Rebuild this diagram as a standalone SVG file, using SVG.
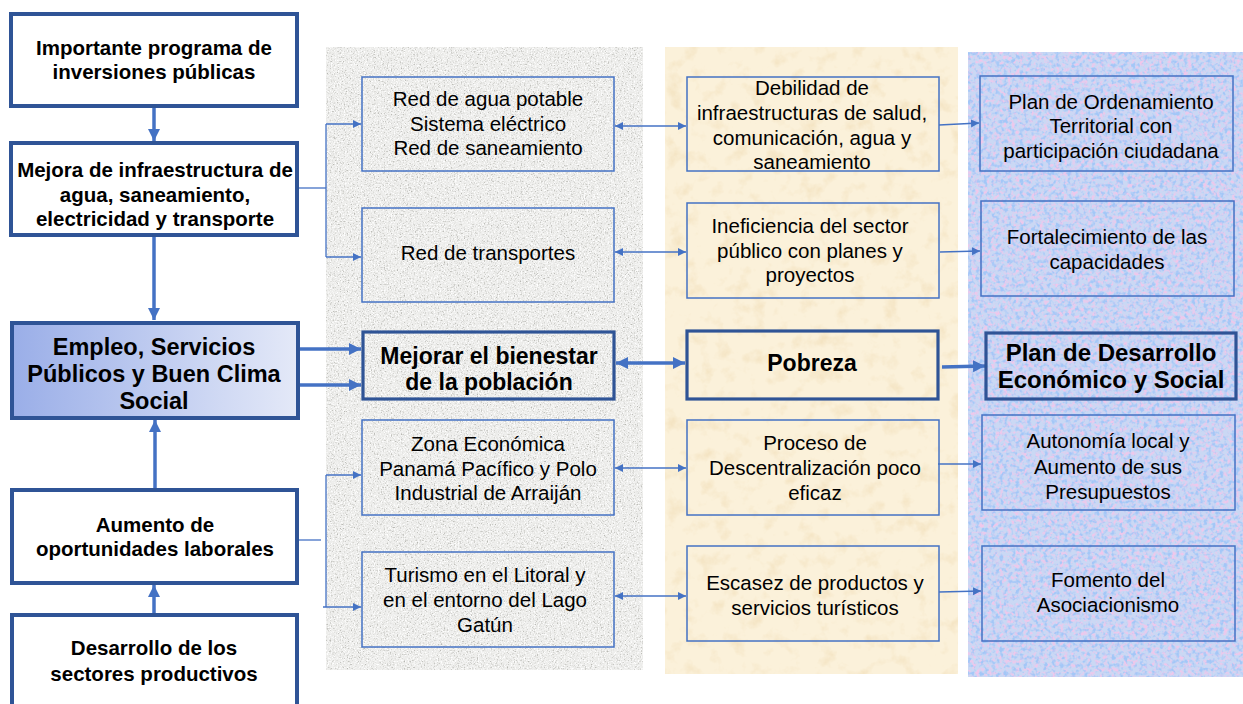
<svg xmlns="http://www.w3.org/2000/svg" width="1243" height="704" viewBox="0 0 1243 704">
<style>
.t{font-family:"Liberation Sans",Arial,sans-serif;text-anchor:middle;fill:#000}
.r{font-size:20.5px}
.b{font-size:20.5px;font-weight:bold}
.b23{font-size:23px;font-weight:bold}
.b24{font-size:24px;font-weight:bold}
.thickbox{fill:#fff;stroke:#2F5496;stroke-width:4}
.midbox{fill:none;stroke:#2F5496;stroke-width:3.2}
.thinbox{fill:none;stroke:#4472C4;stroke-width:1.5}
.thin{fill:none;stroke:#4472C4;stroke-width:1.3}
.thick{fill:none;stroke:#4472C4;stroke-width:3.5}
</style>
<defs>
<marker id="ah" markerUnits="userSpaceOnUse" markerWidth="9" markerHeight="9" refX="8" refY="4" orient="auto-start-reverse"><path d="M0,0 L8,4 L0,8 z" fill="#4472C4"/></marker>
<marker id="AH" markerUnits="userSpaceOnUse" markerWidth="14" markerHeight="14" refX="12" refY="6" orient="auto-start-reverse"><path d="M0,0 L12,6 L0,12 z" fill="#4472C4"/></marker>
<linearGradient id="gEmp" x1="0" y1="0" x2="1" y2="0"><stop offset="0" stop-color="#9AAEE8"/><stop offset="1" stop-color="#E4E9F8"/></linearGradient>
<filter id="dark" x="0" y="0" width="100%" height="100%" color-interpolation-filters="sRGB"><feTurbulence type="fractalNoise" baseFrequency="0.7" numOctaves="3" seed="4"/><feColorMatrix type="matrix" values="0 0 0 0 0.72  0 0 0 0 0.72  0 0 0 0 0.7  3.2 0 0 0 -1.7"/></filter>
<filter id="light" x="0" y="0" width="100%" height="100%" color-interpolation-filters="sRGB"><feTurbulence type="fractalNoise" baseFrequency="0.7" numOctaves="3" seed="9"/><feColorMatrix type="matrix" values="0 0 0 0 1  0 0 0 0 1  0 0 0 0 1  3.5 0 0 0 -1.7"/></filter>
<filter id="cream" x="0" y="0" width="100%" height="100%" color-interpolation-filters="sRGB"><feTurbulence type="fractalNoise" baseFrequency="0.06" numOctaves="4" seed="5"/><feColorMatrix type="matrix" values="0 0 0 0 0.95  0 0 0 0 0.88  0 0 0 0 0.74  2.2 0 0 0 -1.15"/></filter>
<filter id="pink" x="0" y="0" width="100%" height="100%" color-interpolation-filters="sRGB"><feTurbulence type="fractalNoise" baseFrequency="0.25" numOctaves="3" seed="7"/><feColorMatrix type="matrix" values="0 0 0 0 0.94  0 0 0 0 0.78  0 0 0 0 0.92  3.8 0 0 0 -1.8"/></filter>
<filter id="blue" x="0" y="0" width="100%" height="100%" color-interpolation-filters="sRGB"><feTurbulence type="fractalNoise" baseFrequency="0.25" numOctaves="3" seed="12"/><feColorMatrix type="matrix" values="0 0 0 0 0.64  0 0 0 0 0.78  0 0 0 0 0.97  3.8 0 0 0 -1.8"/></filter>
</defs>
<rect width="1243" height="704" fill="#fff"/>
<g id="panels">
<rect x="326" y="47" width="317" height="623" fill="#EDEDEB"/>
<rect x="326" y="47" width="317" height="623" fill="#000" filter="url(#dark)"/>
<rect x="326" y="47" width="317" height="623" fill="#000" filter="url(#light)"/>
<rect x="665" y="47" width="293" height="627" fill="#FBF1DA"/>
<rect x="665" y="47" width="293" height="627" fill="#000" filter="url(#cream)"/>
<rect x="968" y="52" width="275" height="625" fill="#CAD8F4"/>
<rect x="968" y="52" width="275" height="625" fill="#000" filter="url(#pink)"/>
<rect x="968" y="52" width="275" height="625" fill="#000" filter="url(#blue)"/>
</g>
<g id="connectors">
<path class="thick" d="M154,106 V141" marker-end="url(#AH)"/>
<path class="thick" d="M154,235 V320" marker-end="url(#AH)"/>
<path class="thick" d="M155,490 V420" marker-end="url(#AH)"/>
<path class="thick" d="M154,615 V585" marker-end="url(#AH)"/>
<path class="thick" d="M298,349 H361" marker-end="url(#AH)"/>
<path class="thick" d="M298,385 H361" marker-end="url(#AH)"/>
<path class="thick" d="M616,363 H685" marker-start="url(#AH)" marker-end="url(#AH)"/>
<path class="thick" d="M942,367 L985,366" marker-end="url(#AH)"/>
<path class="thin" d="M297,188 H326"/>
<path class="thin" d="M326,124 V257"/>
<path class="thin" d="M326,124 H361" marker-end="url(#ah)"/>
<path class="thin" d="M326,257 H361" marker-end="url(#ah)"/>
<path class="thin" d="M297,540 H321"/>
<path class="thin" d="M326,475 V607"/>
<path class="thin" d="M326,475 H361" marker-end="url(#ah)"/>
<path class="thin" d="M323,607 H361" marker-end="url(#ah)"/>
<path class="thin" d="M615,126 H686" marker-start="url(#ah)" marker-end="url(#ah)"/>
<path class="thin" d="M615,252 H686" marker-start="url(#ah)" marker-end="url(#ah)"/>
<path class="thin" d="M615,468 H686" marker-start="url(#ah)" marker-end="url(#ah)"/>
<path class="thin" d="M615,596 H686" marker-start="url(#ah)" marker-end="url(#ah)"/>
<path class="thin" d="M939,125 L979,123" marker-end="url(#ah)"/>
<path class="thin" d="M940,252 L980,251" marker-end="url(#ah)"/>
<path class="thin" d="M938,464 H981" marker-end="url(#ah)"/>
<path class="thin" d="M939,592 L981,591" marker-end="url(#ah)"/>
</g>
<g id="n-inversiones"><rect class="thickbox" x="11" y="14" width="286" height="92"/><text class="t b" x="154" y="55">Importante programa de</text><text class="t b" x="154" y="79">inversiones públicas</text></g>
<g id="n-mejora"><rect class="thickbox" x="11" y="143" width="286" height="92"/><text class="t b" x="155" y="177">Mejora de infraestructura de</text><text class="t b" x="155" y="202">agua, saneamiento,</text><text class="t b" x="155" y="226">electricidad y transporte</text></g>
<g id="n-empleo"><rect class="thickbox" x="12" y="323" width="286" height="95" style="fill:url(#gEmp)"/><text class="t" style="font-size:23.5px;font-weight:bold" x="154" y="355">Empleo, Servicios</text><text class="t" style="font-size:23.5px;font-weight:bold" x="154" y="382">Públicos y Buen Clima</text><text class="t" style="font-size:23.5px;font-weight:bold" x="154" y="409">Social</text></g>
<g id="n-aumento"><rect class="thickbox" x="12" y="490" width="285" height="93"/><text class="t b" x="155" y="532">Aumento de</text><text class="t b" x="155" y="556">oportunidades laborales</text></g>
<g id="n-desarrollo"><rect class="thickbox" x="12" y="615" width="285" height="110"/><text class="t b" x="154" y="655">Desarrollo de los</text><text class="t b" x="154" y="681">sectores productivos</text></g>
<g id="n-redagua"><rect class="thinbox" x="362" y="77" width="252" height="94"/><text class="t r" x="488" y="106">Red de agua potable</text><text class="t r" x="488" y="131">Sistema eléctrico</text><text class="t r" x="488" y="155">Red de saneamiento</text></g>
<g id="n-redtransp"><rect class="thinbox" x="362" y="208" width="252" height="94"/><text class="t r" x="488" y="260">Red de transportes</text></g>
<g id="n-bienestar"><rect class="midbox" x="363" y="332" width="251" height="67"/><text class="t b23" x="489" y="364">Mejorar el bienestar</text><text class="t b23" x="489" y="390">de la población</text></g>
<g id="n-zona"><rect class="thinbox" x="362" y="420" width="252" height="95"/><text class="t r" x="488" y="451">Zona Económica</text><text class="t r" x="488" y="476">Panamá Pacífico y Polo</text><text class="t r" x="488" y="500">Industrial de Arraiján</text></g>
<g id="n-turismo"><rect class="thinbox" x="362" y="552" width="252" height="95"/><text class="t r" x="485" y="582">Turismo en el Litoral y</text><text class="t r" x="485" y="607">en el entorno del Lago</text><text class="t r" x="485" y="632">Gatún</text></g>
<g id="n-debilidad"><rect class="thinbox" x="687" y="77" width="252" height="94"/><text class="t r" x="812" y="95">Debilidad de</text><text class="t r" x="812" y="120">infraestructuras de salud,</text><text class="t r" x="812" y="145">comunicación, agua y</text><text class="t r" x="812" y="169">saneamiento</text></g>
<g id="n-ineficiencia"><rect class="thinbox" x="687" y="203" width="252" height="95"/><text class="t r" x="810" y="233">Ineficiencia del sector</text><text class="t r" x="810" y="258">público con planes y</text><text class="t r" x="810" y="282">proyectos</text></g>
<g id="n-pobreza"><rect class="midbox" x="687" y="331" width="251" height="68"/><text class="t b23" x="812" y="371">Pobreza</text></g>
<g id="n-proceso"><rect class="thinbox" x="687" y="420" width="252" height="95"/><text class="t r" x="815" y="450">Proceso de</text><text class="t r" x="815" y="475">Descentralización poco</text><text class="t r" x="815" y="500">eficaz</text></g>
<g id="n-escasez"><rect class="thinbox" x="687" y="546" width="252" height="95"/><text class="t r" x="815" y="590">Escasez de productos y</text><text class="t r" x="815" y="615">servicios turísticos</text></g>
<g id="n-ordenamiento"><rect class="thinbox" x="980" y="76" width="253" height="95"/><text class="t r" x="1111" y="109">Plan de Ordenamiento</text><text class="t r" x="1111" y="133">Territorial con</text><text class="t r" x="1111" y="158">participación ciudadana</text></g>
<g id="n-fortalecimiento"><rect class="thinbox" x="981" y="201" width="253" height="95"/><text class="t r" x="1107" y="244">Fortalecimiento de las</text><text class="t r" x="1107" y="269">capacidades</text></g>
<g id="n-plan"><rect class="midbox" x="986" y="333" width="250" height="66"/><text class="t b24" x="1111" y="361">Plan de Desarrollo</text><text class="t b24" x="1111" y="388">Económico y Social</text></g>
<g id="n-autonomia"><rect class="thinbox" x="982" y="415" width="253" height="95"/><text class="t r" x="1108" y="448">Autonomía local y</text><text class="t r" x="1108" y="474">Aumento de sus</text><text class="t r" x="1108" y="499">Presupuestos</text></g>
<g id="n-fomento"><rect class="thinbox" x="982" y="546" width="253" height="95"/><text class="t r" x="1108" y="587">Fomento del</text><text class="t r" x="1108" y="612">Asociacionismo</text></g>
</svg>
